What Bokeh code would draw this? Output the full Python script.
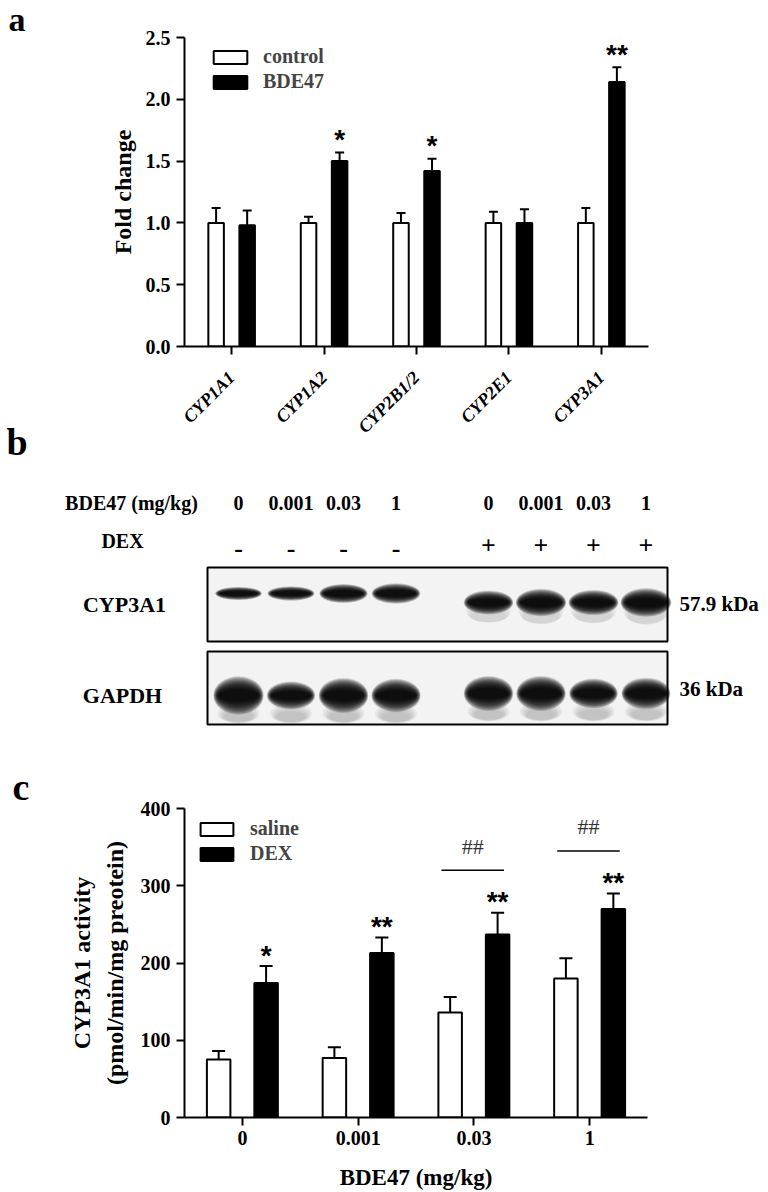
import math
import numpy as np
from bokeh.plotting import figure
from bokeh.models import (Range1d, FixedTicker, LinearAxis, Legend, LegendItem,
                          Whisker, TeeHead, ColumnDataSource, NumeralTickFormatter)
from bokeh.layouts import column, row
from bokeh.core.properties import value
from bokeh.embed import file_html
from bokeh.resources import INLINE

SERIF = "Liberation Serif"
SANS = "Liberation Sans"

# ---------------- data: panel a ----------------
genes = ["CYP1A1", "CYP1A2", "CYP2B1/2", "CYP2E1", "CYP3A1"]
control_mean = [1.00, 1.00, 1.00, 1.00, 1.00]
control_err = [0.12, 0.05, 0.08, 0.09, 0.12]
bde47_mean = [0.98, 1.50, 1.42, 1.00, 2.14]
bde47_err = [0.12, 0.07, 0.10, 0.11, 0.12]
sig_a = ["", "*", "*", "", "**"]
y_ticks_a = [0.0, 0.5, 1.0, 1.5, 2.0, 2.5]

# ---------------- data: panel b (western blot) ----------------
blot_doses = ["0", "0.001", "0.03", "1", "0", "0.001", "0.03", "1"]
blot_dex = ["-", "-", "-", "-", "+", "+", "+", "+"]
cyp3a1_band = [0.55, 0.60, 0.80, 0.85, 1.00, 1.15, 1.05, 1.20]
gapdh_band = [1.10, 0.80, 1.00, 0.95, 1.00, 1.00, 0.85, 0.90]
blot_rows = ["CYP3A1", "GAPDH"]
blot_sizes = ["57.9 kDa", "36 kDa"]

# ---------------- data: panel c ----------------
doses = ["0", "0.001", "0.03", "1"]
saline_mean = [75, 77, 136, 180]
saline_err = [11, 14, 20, 26]
dex_mean = [174, 213, 237, 270]
dex_err = [22, 20, 28, 20]
sig_c = ["*", "**", "**", "**"]
hash_c = ["", "", "##", "##"]
y_ticks_c = [0, 100, 200, 300, 400]

panel_letters = ["a", "b", "c"]


def bare(p):
    p.xgrid.visible = False
    p.ygrid.visible = False
    p.outline_line_color = None
    p.background_fill_color = "white"
    p.border_fill_color = "white"


def style_axes(p):
    bare(p)
    for ax in p.axis:
        ax.axis_line_width = 2
        ax.axis_line_color = "black"
        ax.major_tick_line_width = 2
        ax.major_tick_line_color = "black"
        ax.major_tick_in = 0
        ax.major_tick_out = 8
        ax.minor_tick_line_color = None
        ax.major_label_text_font = SERIF
        ax.major_label_text_font_style = "bold"
        ax.major_label_text_color = "black"
        ax.axis_label_text_font = SERIF
        ax.axis_label_text_font_style = "bold"
        ax.axis_label_text_color = "black"


def add_whiskers(p, xs, means, errs, cap):
    src = ColumnDataSource(dict(base=list(xs), lower=list(means),
                                upper=list(np.array(means, float) + np.array(errs, float))))
    p.add_layout(Whisker(source=src, base="base", lower="lower", upper="upper",
                         dimension="height", line_width=2, line_color="black",
                         upper_head=TeeHead(size=cap, line_width=2, line_color="black"),
                         lower_head=None))


def letter_fig(height, xs, ys, letters, sizes):
    f = figure(width=40, height=height, x_range=Range1d(0, 40), y_range=Range1d(height, 0),
               output_backend="svg", toolbar_location=None, x_axis_type=None,
               y_axis_type=None, min_border_left=0, min_border_right=0,
               min_border_top=0, min_border_bottom=0, frame_align=False)
    bare(f)
    f.text(x=xs, y=ys, text=letters, text_font=value(SERIF),
           text_font_style="bold", text_font_size=sizes, text_align="left",
           text_baseline="middle", text_color="black")
    return f


# =============== panel a ===============
xa = np.arange(len(genes), dtype=float)
off_a = 0.168
w_a = 0.168
pa = figure(width=728, height=450, x_range=Range1d(-0.51, 4.51), y_range=Range1d(0, 2.5),
            output_backend="svg", toolbar_location=None, frame_align=False,
            min_border_left=144, min_border_right=120, min_border_top=37, min_border_bottom=104)
style_axes(pa)
pa.xaxis.ticker = FixedTicker(ticks=list(xa))
pa.xaxis.major_label_overrides = {int(i): g for i, g in enumerate(genes)}
pa.xaxis.major_label_orientation = math.pi / 4
pa.xaxis.major_label_text_font_style = "bold italic"
pa.xaxis.major_label_text_font_size = "18px"
pa.xaxis.major_label_standoff = 20
pa.yaxis.ticker = FixedTicker(ticks=y_ticks_a)
pa.yaxis.formatter = NumeralTickFormatter(format="0.0")
pa.yaxis.major_label_text_font_size = "20px"
pa.yaxis.major_label_standoff = 6
pa.yaxis.axis_label = "Fold change"
pa.yaxis.axis_label_text_font_size = "24px"
pa.yaxis.axis_label_standoff = 7

r_ctrl = pa.vbar(x=xa - off_a, top=control_mean, width=w_a, fill_color="white",
                 line_color="black", line_width=2)
r_bde = pa.vbar(x=xa + off_a, top=bde47_mean, width=w_a, fill_color="black",
                line_color="black", line_width=2)
add_whiskers(pa, xa - off_a, control_mean, control_err, 9)
add_whiskers(pa, xa + off_a, bde47_mean, bde47_err, 9)
pa.text(x=xa + off_a, y=np.array(bde47_mean) + np.array(bde47_err), text=sig_a,
        text_font=value(SANS), text_font_style="bold", text_font_size="28px",
        text_align="center", text_baseline="alphabetic", y_offset=-13, text_color="black")

leg_a = Legend(items=[LegendItem(label="control", renderers=[r_ctrl]),
                      LegendItem(label="BDE47", renderers=[r_bde])],
               location=(25, 253), orientation="vertical", glyph_width=42, glyph_height=16,
               label_standoff=12, spacing=2, padding=0, margin=0, border_line_color=None,
               background_fill_alpha=0, label_text_font=SERIF, label_text_font_style="bold",
               label_text_font_size="20px", label_height=22)
pa.add_layout(leg_a)

# =============== panel b ===============
pb = figure(width=728, height=310, x_range=Range1d(40, 768), y_range=Range1d(760, 450),
            output_backend="svg", toolbar_location=None, x_axis_type=None, y_axis_type=None,
            frame_align=False,
            min_border_left=0, min_border_right=0, min_border_top=0, min_border_bottom=0)
bare(pb)

lane_idx = np.arange(len(blot_doses))
lane_x = 238 + 52.5 * lane_idx + np.where(lane_idx >= 4, 40.0, 0.0)
is_dex = np.array([d == "+" for d in blot_dex])
cyp_y = np.where(is_dex, 602.0, 593.0)
gap_y = np.where(is_dex, 693.0, 695.0)
cyp_sig = np.array(cyp3a1_band)
gap_sig = np.array(gapdh_band)

# blot membranes
pb.quad(left=[207, 207], right=[667, 667], top=[567, 651], bottom=[641, 724],
        fill_color="#f3f3f3", line_color=None)
# smears below the bands
for k in range(4):
    pb.ellipse(x=lane_x, y=cyp_y + 8 + 2 * k, width=46 - 3 * k,
               height=(24 - 4 * k) * cyp_sig * is_dex,
               fill_color="black", fill_alpha=0.03, line_color=None)
    pb.ellipse(x=lane_x, y=gap_y + 18 + k, width=42 - 4 * k, height=20 - 3 * k,
               fill_color="black", fill_alpha=0.05, line_color=None)
# bands: many faint stacked layers for a soft edge
n_layers = 24
for k in range(n_layers):
    hs = 1.6 - 0.05 * k
    ws = 1.08 - 0.01 * k
    pb.ellipse(x=lane_x, y=cyp_y, width=(40 + 6 * cyp_sig) * ws, height=15 * cyp_sig * hs,
               fill_color="black", fill_alpha=0.10, line_color=None)
    pb.ellipse(x=lane_x, y=gap_y, width=(40 + 6 * gap_sig) * ws, height=22 * gap_sig * hs,
               fill_color="black", fill_alpha=0.10, line_color=None)
pb.quad(left=[207, 207], right=[667, 667], top=[567, 651], bottom=[641, 724],
        fill_color=None, line_color="black", line_width=2)

pb.text(x=[131], y=[502], text=["BDE47 (mg/kg)"], text_font=value(SERIF),
        text_font_style="bold", text_font_size="20px", text_align="center",
        text_baseline="middle")
pb.text(x=[122], y=[540], text=["DEX"], text_font=value(SERIF), text_font_style="bold",
        text_font_size="20px", text_align="center", text_baseline="middle")
pb.text(x=lane_x, y=np.full(len(lane_x), 502.0), text=blot_doses, text_font=value(SERIF),
        text_font_style="bold", text_font_size="20px", text_align="center",
        text_baseline="middle")
pb.text(x=lane_x, y=np.where(is_dex, 545.0, 548.0), text=blot_dex, text_font=value(SERIF),
        text_font_style="bold", text_font_size="26px", text_align="center",
        text_baseline="middle")
pb.text(x=[124, 122], y=[604, 695], text=blot_rows, text_font=value(SERIF),
        text_font_style="bold", text_font_size="22px", text_align="center",
        text_baseline="middle")
pb.text(x=[679, 679], y=[603, 688], text=blot_sizes, text_font=value(SERIF),
        text_font_style="bold", text_font_size="21px", text_align="left",
        text_baseline="middle")

lab_ab = letter_fig(760, [8, 6], [19, 441], panel_letters[:2], ["34px", "38px"])

# =============== panel c ===============
xc = np.arange(len(doses), dtype=float)
off_c = 0.205
w_c = 0.203
pc = figure(width=728, height=432, x_range=Range1d(-0.5, 3.5), y_range=Range1d(0, 400),
            output_backend="svg", toolbar_location=None, frame_align=False,
            min_border_left=144, min_border_right=121, min_border_top=48, min_border_bottom=75)
style_axes(pc)
pc.xaxis.ticker = FixedTicker(ticks=list(xc))
pc.xaxis.major_label_overrides = {int(i): d for i, d in enumerate(doses)}
pc.xaxis.major_label_text_font_size = "20px"
pc.xaxis.major_label_standoff = 5
pc.xaxis.axis_label = "BDE47 (mg/kg)"
pc.xaxis.axis_label_text_font_size = "23px"
pc.xaxis.axis_label_standoff = 17
pc.yaxis.ticker = FixedTicker(ticks=y_ticks_c)
pc.yaxis.major_label_text_font_size = "20px"
pc.yaxis.major_label_standoff = 6
pc.yaxis.axis_label = "(pmol/min/mg preotein)"
pc.yaxis.axis_label_text_font_size = "24px"
pc.yaxis.axis_label_standoff = 10
ax2 = LinearAxis(axis_label="CYP3A1 activity", ticker=FixedTicker(ticks=[]),
                 axis_line_color=None, major_tick_line_color=None, minor_tick_line_color=None,
                 major_label_text_font_size="0px", major_tick_out=0, major_tick_in=0,
                 major_label_standoff=0, axis_label_standoff=4,
                 axis_label_text_font=SERIF, axis_label_text_font_style="bold",
                 axis_label_text_font_size="24px", axis_label_text_color="black")
pc.add_layout(ax2, "left")

r_sal = pc.vbar(x=xc - off_c, top=saline_mean, width=w_c, fill_color="white",
                line_color="black", line_width=2)
r_dex = pc.vbar(x=xc + off_c, top=dex_mean, width=w_c, fill_color="black",
                line_color="black", line_width=2)
add_whiskers(pc, xc - off_c, saline_mean, saline_err, 13)
add_whiskers(pc, xc + off_c, dex_mean, dex_err, 13)
dex_hi = np.array(dex_mean, float) + np.array(dex_err, float)
pc.text(x=xc + off_c, y=dex_hi, text=sig_c, text_font=value(SANS), text_font_style="bold",
        text_font_size="28px", text_align="center", text_baseline="alphabetic",
        y_offset=-11, text_color="black")
has_hash = np.array([h != "" for h in hash_c])
hx = xc[has_hash]
hy = dex_hi[has_hash] + 55
pc.segment(x0=hx - 0.28, x1=hx + 0.26, y0=hy, y1=hy, line_color="black", line_width=1.5)
pc.text(x=hx - 0.01, y=hy, text=[h for h in hash_c if h], text_font=value(SERIF),
        text_font_size="22px", text_align="center", text_baseline="alphabetic",
        y_offset=-24, text_color="#333333")

leg_c = Legend(items=[LegendItem(label="saline", renderers=[r_sal]),
                      LegendItem(label="DEX", renderers=[r_dex])],
               location=(12, 252), orientation="vertical", glyph_width=41, glyph_height=16,
               label_standoff=13, spacing=2, padding=0, margin=0, border_line_color=None,
               background_fill_alpha=0, label_text_font=SERIF, label_text_font_style="bold",
               label_text_font_size="20px", label_height=22)
pc.add_layout(leg_c)
lab_c = letter_fig(432, [12], [26], panel_letters[2:], ["38px"])

layout = column(row(lab_ab, column(pa, pb)), row(lab_c, pc))
open("out.html", "w").write(file_html(layout, INLINE))
